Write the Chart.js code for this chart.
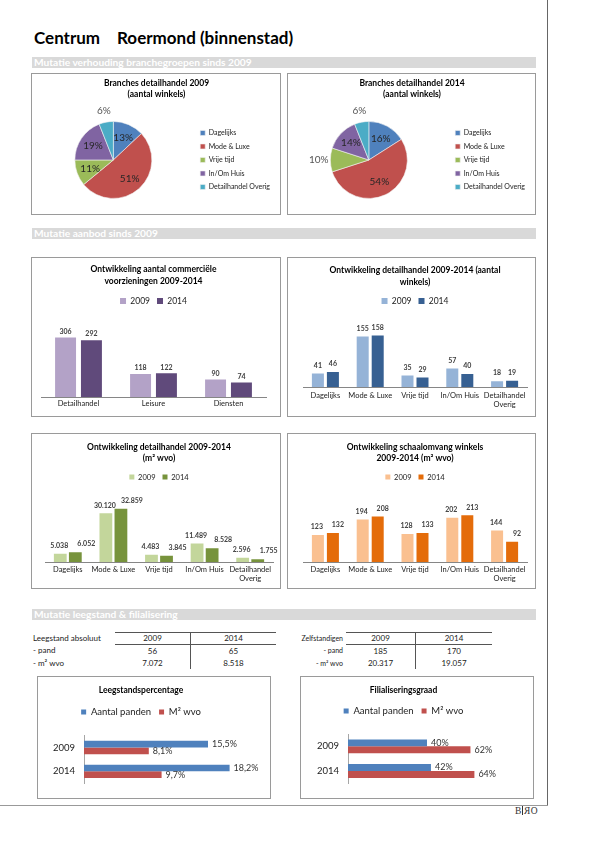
<!DOCTYPE html>
<html lang="nl">
<head>
<meta charset="utf-8">
<title>Centrum Roermond (binnenstad)</title>
<script src="https://cdn.jsdelivr.net/npm/chart.js@4.4.1/dist/chart.umd.min.js"></script>
<style>
  body { margin: 0; background: #fff; font-family: Lato, sans-serif; }
  #pagina { position: relative; width: 595px; height: 842px; overflow: hidden; background: #fff; }
  .kop { position: absolute; top: 28px; font: bold 17px Lato; color: #000; line-height: 20px; white-space: nowrap; }
  .balk { position: absolute; left: 32px; width: 504px; height: 11px; background: #d9d9d9; color: #fff; font: bold 10.2px Lato; line-height: 11px; padding-left: 2px; box-sizing: border-box; white-space: nowrap; }
  .kader { position: absolute; border: 1px solid #9a9a9a; box-sizing: border-box; }
  .kader canvas { position: absolute; left: 0; top: 0; }
  .tabel { position: absolute; border-collapse: collapse; font: 8px Lato; color: #222; }
  .tabel td { padding: 0; height: 11px; line-height: 11px; text-align: center; white-space: nowrap; }
  .tabel td.label { text-align: left; }
  .tabel td.rechts { text-align: right; padding-right: 3px; font-size: 7px; }
  .tabel tr.kopregel td.jaar { border-top: 1px solid #555; border-bottom: 1px solid #555; }
  .tabel td.scheiding { border-left: 1px solid #555; }
  #rechterlijn { position: absolute; left: 547px; top: 0; width: 1px; height: 806px; background: #666; }
  #onderlijn { position: absolute; left: 0; top: 805px; width: 548px; height: 1px; background: #999; }
  .logo { position: absolute; left: 515px; top: 806px; font: 9.5px "Liberation Serif", serif; color: #333; line-height: 11px; }
  .logo .streep { display: inline-block; width: 1px; height: 9px; background: #333; margin: 0 1px; vertical-align: -1px; }
  .logo .spiegel { display: inline-block; transform: scaleX(-1); }
</style>
</head>
<body>
<div id="pagina">
  <div class="kop" style="left:34px">Centrum</div>
  <div class="kop" style="left:117px">Roermond (binnenstad)</div>

  <div class="balk" style="top:57px">Mutatie verhouding branchegroepen sinds 2009</div>
  <div class="kader" style="left:31px;top:73px;width:250px;height:142px"><canvas id="taart2009" width="248" height="144"></canvas></div>
  <div class="kader" style="left:287px;top:73px;width:249px;height:142px"><canvas id="taart2014" width="247" height="144"></canvas></div>

  <div class="balk" style="top:228px">Mutatie aanbod sinds 2009</div>
  <div class="kader" style="left:31px;top:257px;width:250px;height:160px"><canvas id="voorzieningen" width="248" height="158"></canvas></div>
  <div class="kader" style="left:287px;top:257px;width:249px;height:160px"><canvas id="winkels" width="247" height="158"></canvas></div>
  <div class="kader" style="left:31px;top:433px;width:250px;height:156px"><canvas id="wvo" width="248" height="154"></canvas></div>
  <div class="kader" style="left:287px;top:433px;width:249px;height:156px"><canvas id="schaal" width="247" height="154"></canvas></div>

  <div class="balk" style="top:609px">Mutatie leegstand &amp; filialisering</div>
  <table id="tabelLeeg" class="tabel" style="left:33px;top:632px"></table>
  <table id="tabelZelf" class="tabel" style="left:288px;top:632px"></table>

  <div class="kader" style="left:37px;top:676px;width:234px;height:123px"><canvas id="leegstand" width="232" height="121"></canvas></div>
  <div class="kader" style="left:300px;top:676px;width:234px;height:123px"><canvas id="filialisering" width="232" height="121"></canvas></div>

  <div id="rechterlijn"></div>
  <div id="onderlijn"></div>
  <div class="logo">B<span class="streep"></span><span class="spiegel">R</span>O</div>
</div>

<script>
// Branchegroepen (percentages aantal winkels)
const taartLabels = ['Dagelijks', 'Mode & Luxe', 'Vrije tijd', 'In/Om Huis', 'Detailhandel Overig'];
const taart2009 = [13, 51, 11, 19, 6];
const taart2014 = [16, 54, 10, 14, 6];

// Commerciele voorzieningen
const voorzLabels = ['Detailhandel', 'Leisure', 'Diensten'];
const voorz2009 = [306, 118, 90];
const voorz2014 = [292, 122, 74];

// Detailhandel per branche
const brancheLabels = ['Dagelijks', 'Mode & Luxe', 'Vrije tijd', 'In/Om Huis', ['Detailhandel', 'Overig']];
const winkels2009 = [41, 155, 35, 57, 18];
const winkels2014 = [46, 158, 29, 40, 19];
const wvo2009 = [5038, 30120, 4483, 11489, 2596];
const wvo2014 = [6052, 32859, 3845, 8528, 1755];
const schaal2009 = [123, 194, 128, 202, 144];
const schaal2014 = [132, 208, 133, 213, 92];

// Leegstand & filialisering
const jaren = ['2009', '2014'];
const leegPanden = [15.5, 18.2];
const leegWvo = [8.1, 9.7];
const filiPanden = [40, 42];
const filiWvo = [62, 64];

const rijLabels = ['- pand', '- m² wvo'];
const leegPand = [56, 65];
const leegM2 = [7072, 8518];
const zelfPand = [185, 170];
const zelfM2 = [20317, 19057];

const taartKleuren = ['#4f81bd', '#c0504d', '#9bbb59', '#8064a2', '#4bacc6'];

Chart.defaults.font.family = 'Lato';
Chart.defaults.color = '#222';

// Getallen op z'n Nederlands
function duizend(v) {
    return String(v).replace(/\B(?=(\d{3})+(?!\d))/g, '.');
}
function procent(v) {
    return (Number.isInteger(v) ? String(v) : v.toFixed(1).replace('.', ',')) + '%';
}
const formaten = { duizend: duizend, procent: procent };

// Percentages in / naast de taartpunten
const taartPlugin = {
    id: 'taartLabels',
    afterDatasetsDraw(chart, args, opts) {
        const ctx = chart.ctx;
        const waarden = chart.data.datasets[0].data;
        ctx.save();
        ctx.font = '10px Lato';
        ctx.textAlign = 'center';
        ctx.textBaseline = 'middle';
        chart.getDatasetMeta(0).data.forEach((punt, i) => {
            const hoek = (punt.startAngle + punt.endAngle) / 2;
            const buiten = opts.buiten.includes(i);
            const r = punt.outerRadius * (buiten ? 1.3 : 0.64);
            ctx.fillStyle = buiten ? '#555' : '#262626';
            ctx.fillText(waarden[i] + '%', punt.x + Math.cos(hoek) * r, punt.y + Math.sin(hoek) * r);
        });
        ctx.restore();
    }
};

// Waarden boven / naast de staven
const waardenPlugin = {
    id: 'waarden',
    afterDatasetsDraw(chart, args, opts) {
        const ctx = chart.ctx;
        const fmt = formaten[opts.formaat];
        const liggend = chart.options.indexAxis === 'y';
        const schuif = opts.verschuif || [0, 0];
        ctx.save();
        ctx.font = opts.font;
        ctx.fillStyle = opts.kleur;
        ctx.textAlign = liggend ? 'left' : 'center';
        ctx.textBaseline = 'middle';
        chart.data.datasets.forEach((ds, i) => {
            chart.getDatasetMeta(i).data.forEach((staaf, j) => {
                if (liggend) {
                    ctx.fillText(fmt(ds.data[j]), staaf.x + opts.afstand, staaf.y);
                } else {
                    ctx.fillText(fmt(ds.data[j]), staaf.x + schuif[i], staaf.y - opts.afstand);
                }
            });
        });
        ctx.restore();
    }
};

function maakTaart(id, titel, waarden, buiten) {
    return new Chart(document.getElementById(id), {
        type: 'pie',
        data: {
            labels: taartLabels,
            datasets: [{
                data: waarden,
                backgroundColor: taartKleuren,
                borderColor: '#f2f2f2',
                borderWidth: 0.6
            }]
        },
        options: {
            responsive: false,
            animation: false,
            radius: 38.5,
            layout: { padding: { left: 1, right: 0, top: 0, bottom: 0 } },
            plugins: {
                title: {
                    display: true,
                    text: titel,
                    color: '#000',
                    font: { size: 8.5, weight: 'bold', lineHeight: 1.29 },
                    padding: { top: 3.8, bottom: 2.2 }
                },
                legend: {
                    position: 'right',
                    fullSize: false,
                    labels: { boxWidth: 5, boxHeight: 5, padding: 6.5, font: { size: 7 }, color: '#222' }
                },
                tooltip: { enabled: false },
                taartLabels: { buiten: buiten }
            }
        },
        plugins: [taartPlugin]
    });
}

function maakStaaf(id, cfg) {
    return new Chart(document.getElementById(id), {
        type: 'bar',
        data: {
            labels: cfg.labels,
            datasets: [
                { label: '2009', data: cfg.d2009, backgroundColor: cfg.kleuren[0] },
                { label: '2014', data: cfg.d2014, backgroundColor: cfg.kleuren[1] }
            ]
        },
        options: {
            responsive: false,
            animation: false,
            layout: { padding: cfg.padding },
            datasets: { bar: { categoryPercentage: cfg.cat, barPercentage: cfg.bar } },
            scales: {
                x: {
                    grid: { display: false, drawTicks: false },
                    border: { color: '#868686' },
                    ticks: { font: { size: 7.5 }, color: '#222', padding: cfg.tickPad, maxRotation: 0, autoSkip: false },
                    afterFit: (s) => { s.height = cfg.asHoogte; }
                },
                y: { display: false, min: 0, max: cfg.max }
            },
            plugins: {
                title: {
                    display: true,
                    text: cfg.titel,
                    color: '#000',
                    font: { size: 8.5, weight: 'bold', lineHeight: cfg.titelRegel },
                    padding: cfg.titelPad
                },
                legend: {
                    labels: { boxWidth: cfg.legBox, boxHeight: cfg.legBox, padding: 7, font: { size: cfg.legFont }, color: '#222' }
                },
                tooltip: { enabled: false },
                waarden: { formaat: 'duizend', font: 'bold 7px Lato', kleur: '#404040', afstand: cfg.afstand, verschuif: cfg.verschuif }
            }
        },
        plugins: [waardenPlugin]
    });
}

function maakLiggend(id, cfg) {
    return new Chart(document.getElementById(id), {
        type: 'bar',
        data: {
            labels: jaren,
            datasets: [
                { label: 'Aantal panden', data: cfg.panden, backgroundColor: '#4f81bd' },
                { label: 'M² wvo', data: cfg.wvo, backgroundColor: '#c0504d' }
            ]
        },
        options: {
            indexAxis: 'y',
            responsive: false,
            animation: false,
            layout: { padding: cfg.padding },
            datasets: { bar: { categoryPercentage: 0.56, barPercentage: 1 } },
            scales: {
                x: {
                    position: 'top',
                    min: 0,
                    max: cfg.max,
                    grid: { display: false, drawTicks: false },
                    border: { display: false },
                    ticks: { display: false },
                    afterFit: (s) => { s.height = cfg.boven; }
                },
                y: {
                    grid: { display: false, drawTicks: false },
                    border: { color: '#a6a6a6' },
                    ticks: { font: { size: 9.5 }, color: '#222', padding: 9 },
                    afterFit: (s) => { s.width = cfg.links; }
                }
            },
            plugins: {
                title: {
                    display: true,
                    text: cfg.titel,
                    color: '#000',
                    font: { size: 8.5, weight: 'bold', lineHeight: 1.2 },
                    padding: cfg.titelPad
                },
                legend: {
                    labels: { boxWidth: 5, boxHeight: 5, padding: 8, font: { size: 9.5 }, color: '#222' }
                },
                tooltip: { enabled: false },
                waarden: { formaat: 'procent', font: '9px Lato', kleur: '#333', afstand: 4 }
            }
        },
        plugins: [waardenPlugin]
    });
}

maakTaart('taart2009', ['Branches detailhandel 2009', '(aantal winkels)'], taart2009, [4]);
maakTaart('taart2014', ['Branches detailhandel 2014', '(aantal winkels)'], taart2014, [2, 4]);

maakStaaf('voorzieningen', {
    labels: voorzLabels, d2009: voorz2009, d2014: voorz2014,
    kleuren: ['#b3a2c7', '#604a7b'],
    titel: ['Ontwikkeling aantal commerciële', 'voorzieningen 2009-2014'],
    titelRegel: 1.46, titelPad: { top: 0.3, bottom: 1.9 },
    legFont: 8.5, legBox: 6,
    padding: { top: 4.75, left: 9, right: 14, bottom: 0 },
    asHoogte: 19, tickPad: 2.5, max: 420, cat: 0.69, bar: 0.81, afstand: 6
});
maakStaaf('winkels', {
    labels: brancheLabels, d2009: winkels2009, d2014: winkels2014,
    kleuren: ['#95b3d7', '#376092'],
    titel: ['Ontwikkeling detailhandel 2009-2014 (aantal', 'winkels)'],
    titelRegel: 1.41, titelPad: { top: 1.25, bottom: 1.75 },
    legFont: 8.5, legBox: 6,
    padding: { top: 4.75, left: 15, right: 8, bottom: 0 },
    asHoogte: 29, tickPad: 4.5, max: 220, cat: 0.67, bar: 0.8, afstand: 8
});
maakStaaf('wvo', {
    labels: brancheLabels, d2009: wvo2009, d2014: wvo2014,
    kleuren: ['#c3d69b', '#77933c'],
    titel: ['Ontwikkeling detailhandel 2009-2014', '(m² wvo)'],
    titelRegel: 1.3, titelPad: { top: 2.05, bottom: 2.75 },
    legFont: 7.5, legBox: 5,
    padding: { top: 5.45, left: 13, right: 7, bottom: 0 },
    asHoogte: 26, tickPad: 3.5, max: 44000, cat: 0.66, bar: 0.85, afstand: 8, verschuif: [-1, 11]
});
maakStaaf('schaal', {
    labels: brancheLabels, d2009: schaal2009, d2014: schaal2014,
    kleuren: ['#fac090', '#e46c0a'],
    titel: ['Ontwikkeling schaalomvang winkels', '2009-2014 (m² wvo)'],
    titelRegel: 1.3, titelPad: { top: 2.05, bottom: 2.75 },
    legFont: 7.5, legBox: 5,
    padding: { top: 5.45, left: 15, right: 8, bottom: 0 },
    asHoogte: 26, tickPad: 3.5, max: 325, cat: 0.67, bar: 0.8, afstand: 8, verschuif: [-1, 5]
});

maakLiggend('leegstand', {
    titel: 'Leegstandspercentage', panden: leegPanden, wvo: leegWvo,
    titelPad: { top: 7.9, bottom: 4.15 }, boven: 8.75, links: 46, max: 20,
    padding: { top: 0, left: 0, right: 26, bottom: 12.5 }
});
maakLiggend('filialisering', {
    titel: 'Filialiseringsgraad', panden: filiPanden, wvo: filiWvo,
    titelPad: { top: 7.9, bottom: 3.15 }, boven: 8.25, links: 47, max: 80,
    padding: { top: 0, left: 0, right: 27, bottom: 12 }
});

// Tabellen leegstand en zelfstandigen
function maakTabel(id, titel, pand, m2, breedtes, labelKlasse) {
    const tabel = document.getElementById(id);
    const rijen = [[titel].concat(jaren), [rijLabels[0]].concat(pand.map(duizend)), [rijLabels[1]].concat(m2.map(duizend))];
    rijen.forEach((rij, r) => {
        const tr = document.createElement('tr');
        if (r === 0) tr.className = 'kopregel';
        rij.forEach((tekst, k) => {
            const td = document.createElement('td');
            td.textContent = tekst;
            td.style.width = breedtes[k] + 'px';
            if (k === 0) td.className = labelKlasse;
            else td.className = 'jaar' + (k === 2 ? ' scheiding' : '');
            if (r > 0) td.style.height = '12px';
            tr.appendChild(td);
        });
        tabel.appendChild(tr);
    });
}
maakTabel('tabelLeeg', 'Leegstand absoluut', leegPand, leegM2, [82, 75, 85], 'label');
maakTabel('tabelZelf', 'Zelfstandigen', zelfPand, zelfM2, [55, 69, 76], 'rechts');
</script>
</body>
</html>
